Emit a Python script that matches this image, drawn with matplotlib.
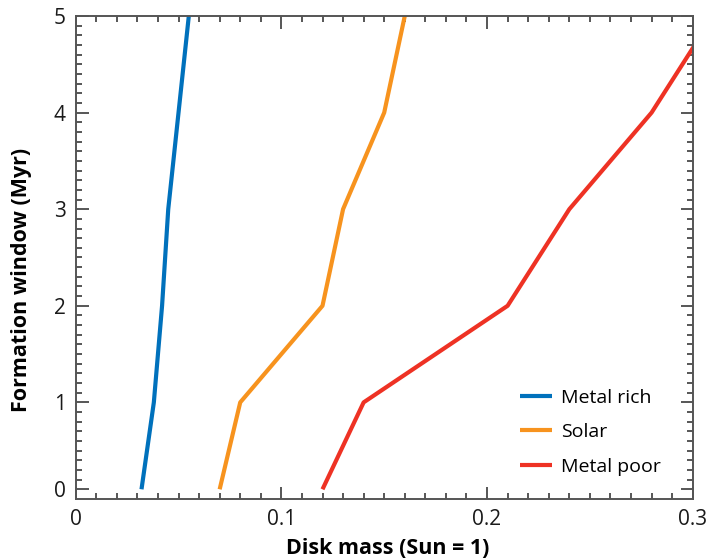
import numpy as np
import matplotlib
matplotlib.use("Agg")
import matplotlib.pyplot as plt
from matplotlib.ticker import FixedLocator, MultipleLocator

# formation window (Myr) against disk mass for three metallicities
window = [0, 1, 2, 3, 4, 5]
metal_rich = [0.032, 0.038, 0.042, 0.045, 0.050, 0.055]
solar = [0.070, 0.080, 0.120, 0.130, 0.150, 0.160]
metal_poor = [0.120, 0.140, 0.210, 0.240, 0.280, 0.310]

series = [
    ("Metal rich", metal_rich, "#0071bc"),
    ("Solar", solar, "#f7931e"),
    ("Metal poor", metal_poor, "#ee3224"),
]

plt.rcParams['font.family'] = ['Open Sans', 'DejaVu Sans']


# the original squeezes the 0-1 interval a little (0 sits one minor tick above the axis)
def fwd(y):
    y = np.asarray(y, dtype=float)
    return np.where(y < 1, 0.1 + 0.9 * y, y)


def inv(t):
    t = np.asarray(t, dtype=float)
    return np.where(t < 1, (t - 0.1) / 0.9, t)


fig = plt.figure(figsize=(7.06, 5.6), dpi=100)
ax = fig.add_axes([0.1072, 0.109, 0.874, 0.8624])

for name, xs, col in series:
    ax.plot(xs, window, color=col, linewidth=3, label=name, solid_capstyle='butt')

ax.set_yscale('function', functions=(fwd, inv))
ax.set_xlim(0, 0.3)
ax.set_ylim(-1 / 9, 5)

ax.xaxis.set_major_locator(FixedLocator([0, 0.1, 0.2, 0.3]))
ax.xaxis.set_minor_locator(MultipleLocator(0.01))
ax.set_xticklabels(["0", "0.1", "0.2", "0.3"])
ax.yaxis.set_major_locator(FixedLocator([0, 1, 2, 3, 4, 5]))
ax.yaxis.set_minor_locator(FixedLocator(inv(np.arange(0.1, 5.0, 0.1))))
ax.set_yticklabels(["0", "1", "2", "3", "4", "5"])

ax.tick_params(which='both', direction='in', top=True, right=True, colors='#3a3a3a',
               labelcolor='#1a1a1a', labelsize=15)
ax.tick_params(which='major', length=9, width=1.2, pad=7)
ax.tick_params(which='minor', length=4, width=1.2)
for s in ax.spines.values():
    s.set_color('#555555')
    s.set_linewidth(1.4)

ax.set_xlabel('Disk mass (Sun = 1)', fontsize=15.5, fontweight='bold')
ax.set_ylabel('Formation window (Myr)', fontsize=15.5, fontweight='bold')
ax.yaxis.set_label_coords(-0.071, 0.453)
ax.xaxis.set_label_coords(0.506, -0.081)

ax.legend(loc='lower right', frameon=False, fontsize=14, handlelength=1.65,
          handletextpad=0.46, labelspacing=0.85, bbox_to_anchor=(0.977, 0.012))

fig.savefig("out.png", dpi=100)
